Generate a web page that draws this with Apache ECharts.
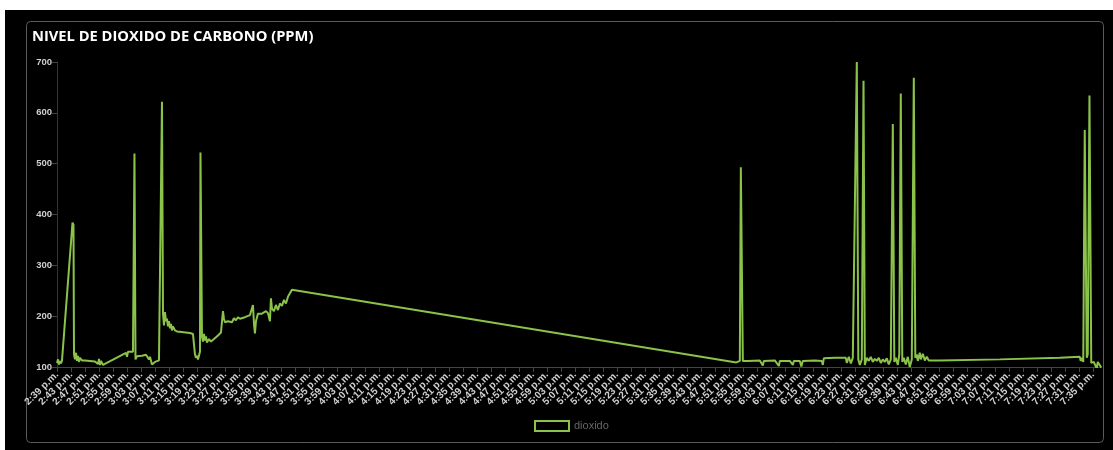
<!DOCTYPE html>
<html>
<head>
<meta charset="utf-8">
<script src="https://cdn.jsdelivr.net/npm/echarts@6/dist/echarts.min.js"></script>
<style>
html,body{margin:0;padding:0;background:#fff;}
#chart{width:1113px;height:450px;}
</style>
</head>
<body>
<div id="chart"></div>
<script>
// minutes after 2:39 p.m.
const minutes = [
0,0.29,0.57,0.86,1.14,1.43,1.71,4.43,4.71,4.86,5.14,5.43,5.71,6.0,6.29,6.57,7.14,8.0,9.43,10.86,11.43,11.71,12.0,12.29,12.57,12.86,13.14,
19.71,20.0,20.29,20.86,21.71,22.14,22.43,22.86,24.29,25.43,26.0,26.29,26.57,27.14,28.0,29.14,29.43,29.71,30.0,30.29,30.57,30.86,31.14,31.43,31.71,32.0,32.29,32.57,32.86,33.14,33.71,34.29,
38.0,38.86,39.14,39.43,39.71,40.0,40.29,40.57,40.86,41.0,41.43,41.71,42.0,42.29,42.57,42.86,43.43,44.0,44.86,46.0,46.86,47.14,47.43,47.71,48.0,48.86,49.43,50.0,50.57,51.14,51.71,52.29,53.71,55.14,55.71,56.0,56.29,56.57,56.86,57.43,58.57,59.71,60.29,60.86,61.14,61.43,62.0,62.57,63.14,63.71,64.29,64.86,65.43,66.0,66.57,67.14,67.43,
194.14,195.14,195.43,196.0,196.29,197.43,200.86,201.71,202.0,205.14,206.29,206.57,209.43,210.29,210.57,212.29,212.71,213.14,216.57,218.57,218.86,219.14,222.29,225.43,225.71,226.29,226.86,227.43,228.0,228.57,229.0,229.43,230.0,230.49,230.86,
231.43,232.0,232.57,233.14,233.71,234.29,234.86,235.43,236.0,236.57,237.14,237.71,238.29,238.86,239.29,239.71,240.29,240.71,241.14,241.57,242.0,242.57,243.14,243.71,244.29,244.86,245.29,245.71,246.0,246.57,246.86,247.43,248.0,248.57,249.14,
252.29,269.43,286.57,292.29,292.57,292.86,293.29,293.71,294.29,294.57,295.06,295.57,296.29,296.86,297.14,297.43,298.0,298.43
];
const dioxido = [
108,115,105,112,107,113,112,384,380,125,115,128,112,122,110,118,113,113,112,111,113,106,116,104,112,108,104,
128,120,130,127,130,520,115,121,122,124,126,115,120,105,110,113,112,448,622,205,182,208,190,195,180,190,176,185,172,180,172,170,
167,165,145,125,118,122,115,118,130,522,160,150,165,152,160,148,155,150,155,162,168,170,210,195,188,190,193,188,196,192,198,195,198,202,200,222,185,166,190,205,205,210,206,190,235,215,210,222,212,225,220,232,225,238,240,252,253,
109,112,493,112,110,112,113,103,112,113,102,112,112,104,112,112,101,112,113,112,104,117,118,118,108,120,107,118,120,700,115,104,115,663,104,
118,112,120,110,116,112,118,108,115,110,117,105,115,578,110,118,104,125,638,110,118,105,120,100,115,669,118,125,112,128,115,126,113,120,113,
113,115,118,120,112,118,110,566,118,125,634,108,110,109,97,110,108,99
];
const seriesName = 'dioxido';
const titleText = 'NIVEL DE DIOXIDO DE CARBONO (PPM)';
const startClock = 14 * 60 + 39; // 2:39 p.m.

function clockLabel(v) {
  if (Math.abs(v / 4 - Math.round(v / 4)) > 1e-6) return '';
  const total = startClock + Math.round(v);
  let h = Math.floor(total / 60) % 12; if (h === 0) h = 12;
  const m = total % 60;
  return h + ':' + (m < 10 ? '0' : '') + m + ' p.m.';
}

const data = minutes.map((t, i) => [t, dioxido[i]]);
const green = '#8bc34a';

const chart = echarts.init(document.getElementById('chart'), null, {renderer: 'canvas'});
chart.setOption({
  animation: false,
  backgroundColor: '#ffffff',
  graphic: [
    {type: 'rect', z: -10, silent: true, shape: {x: 5, y: 10, width: 1108, height: 440}, style: {fill: '#000'}},
    {type: 'rect', z: -9, silent: true, shape: {x: 26.5, y: 21.5, width: 1077, height: 421, r: 4}, style: {fill: '#000', stroke: '#5a5a5a', lineWidth: 1}}
  ],
  title: {
    text: titleText, left: 27, top: 24,
    textStyle: {color: '#ffffff', fontSize: 14.7, fontWeight: 'bold', fontFamily: 'Open Sans'}
  },
  legend: {
    left: 529, top: 415, itemWidth: 34, itemHeight: 10, itemGap: 6,
    textStyle: {color: '#666', fontSize: 11, fontFamily: 'Liberation Sans'},
    data: [{name: seriesName, icon: 'rect', itemStyle: {color: 'rgba(0,0,0,0)', borderColor: green, borderWidth: 2}}]
  },
  grid: {left: 57, right: 11.5, top: 62, bottom: 83, containLabel: false},
  xAxis: {
    type: 'value', min: 0, max: 298.5, interval: 4,
    axisLine: {show: true, onZero: false, lineStyle: {color: '#444', width: 1}},
    axisTick: {show: true, length: 5, lineStyle: {color: '#444'}},
    splitLine: {show: false},
    axisLabel: {
      rotate: 45, margin: 6, fontSize: 10, fontWeight: 'bold', color: '#cfcfcf',
      fontFamily: 'Liberation Sans', showMaxLabel: false, formatter: clockLabel
    }
  },
  yAxis: {
    type: 'value', min: 100, max: 700, interval: 100,
    axisLine: {show: true, lineStyle: {color: '#333'}},
    axisTick: {show: true, length: 5, lineStyle: {color: '#444'}},
    splitLine: {show: false},
    axisLabel: {fontSize: 9.5, fontWeight: 'bold', color: '#cfcfcf', margin: 5, fontFamily: 'Liberation Sans'}
  },
  series: [{
    name: seriesName, type: 'line', data: data, showSymbol: false, symbol: 'none',
    lineStyle: {color: green, width: 2}, itemStyle: {color: green}, clip: true
  }]
});
</script>
</body>
</html>
